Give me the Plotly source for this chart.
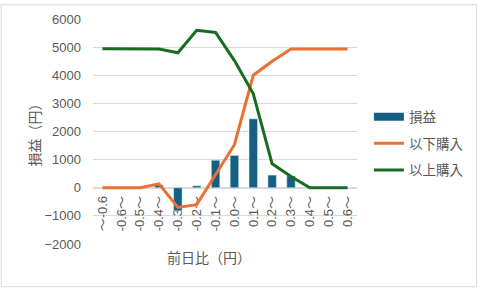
import plotly.graph_objects as go

categories = ["～-0.6", "-0.6～", "-0.5～", "-0.4～", "-0.3～", "-0.2～", "-0.1～",
              "0.0～", "0.1～", "0.2～", "0.3～", "0.4～", "0.5～", "0.6～"]
profit = [0, 0, 0, 100, -820, 70, 980, 1150, 2450, 450, 420, 0, 0, 0]
buy_below = [0, 0, 0, 140, -700, -600, 450, 1530, 4000, 4500, 4930, 4930, 4930, 4930]
buy_above = [4940, 4940, 4940, 4930, 4800, 5600, 5520, 4520, 3340, 850, 400, 0, 0, 0]

W, H = 481, 289
ML, MR, MT, MB = 93, 122, 15, 45
PW, PH = W - ML - MR, H - MT - MB
GRAY = "#595959"
FONT = "Arial, Liberation Sans, Noto Sans CJK JP"
BLUE, ORANGE, GREEN = "#156082", "#E97132", "#196B24"

fig = go.Figure()
fig.add_trace(go.Bar(x=categories, y=profit, name="損益", marker_color=BLUE,
                     showlegend=False))
# legend entry for the bars (wide rectangle swatch as in the reference)
fig.add_trace(go.Scatter(x=[None], y=[None], name="損益", mode="lines",
                         line=dict(color=BLUE, width=8), legendgroup="a"))
fig.add_trace(go.Scatter(x=categories, y=buy_below, name="以下購入", mode="lines",
                         line=dict(color=ORANGE, width=3), legendgroup="b"))
fig.add_trace(go.Scatter(x=categories, y=buy_above, name="以上購入", mode="lines",
                         line=dict(color=GREEN, width=3), legendgroup="c"))

ymin, ymax = -2000, 6000
fig.update_layout(
    width=W, height=H,
    margin=dict(l=ML, r=MR, t=MT, b=MB),
    paper_bgcolor="white", plot_bgcolor="white",
    font=dict(family=FONT, color=GRAY, size=13),
    bargap=0.55,
    showlegend=True,
    legend=dict(x=(371 - ML) / PW, xanchor="left", y=1 - (99 - MT) / PH, yanchor="top",
                font=dict(size=13.5, color=GRAY), tracegroupgap=6, bgcolor="rgba(0,0,0,0)"),
    xaxis=dict(type="category", anchor="free", position=(0 - ymin) / (ymax - ymin),
               showline=True, linecolor="#d9d9d9", linewidth=1, layer="below traces",
               showgrid=False, tickangle=-90, ticks="", tickfont=dict(size=13, color=GRAY),
               ticklabelstandoff=2),
    yaxis=dict(range=[ymin, ymax], dtick=1000, showgrid=True, gridcolor="#d9d9d9",
               gridwidth=1, zeroline=False, showline=False, ticks="",
               tickfont=dict(size=13, color=GRAY), ticklabelstandoff=11,
               title=dict(text="損益（円）", font=dict(size=14, color=GRAY), standoff=0)),
    shapes=[dict(type="rect", xref="paper", yref="paper",
                 x0=-(ML - 0.5) / PW, x1=1 + (MR - 1.5) / PW,
                 y0=-(MB - 1.5) / PH, y1=1 + (MT - 0.5) / PH,
                 line=dict(color="#d9d9d9", width=1), layer="below")],
    annotations=[dict(text="前日比（円）", xref="paper", yref="paper",
                      x=(210 - ML) / PW, y=-(258 - MT - PH) / PH, xanchor="center",
                      yanchor="middle", showarrow=False, font=dict(size=14, color=GRAY))],
)

fig.write_html("out.html")
